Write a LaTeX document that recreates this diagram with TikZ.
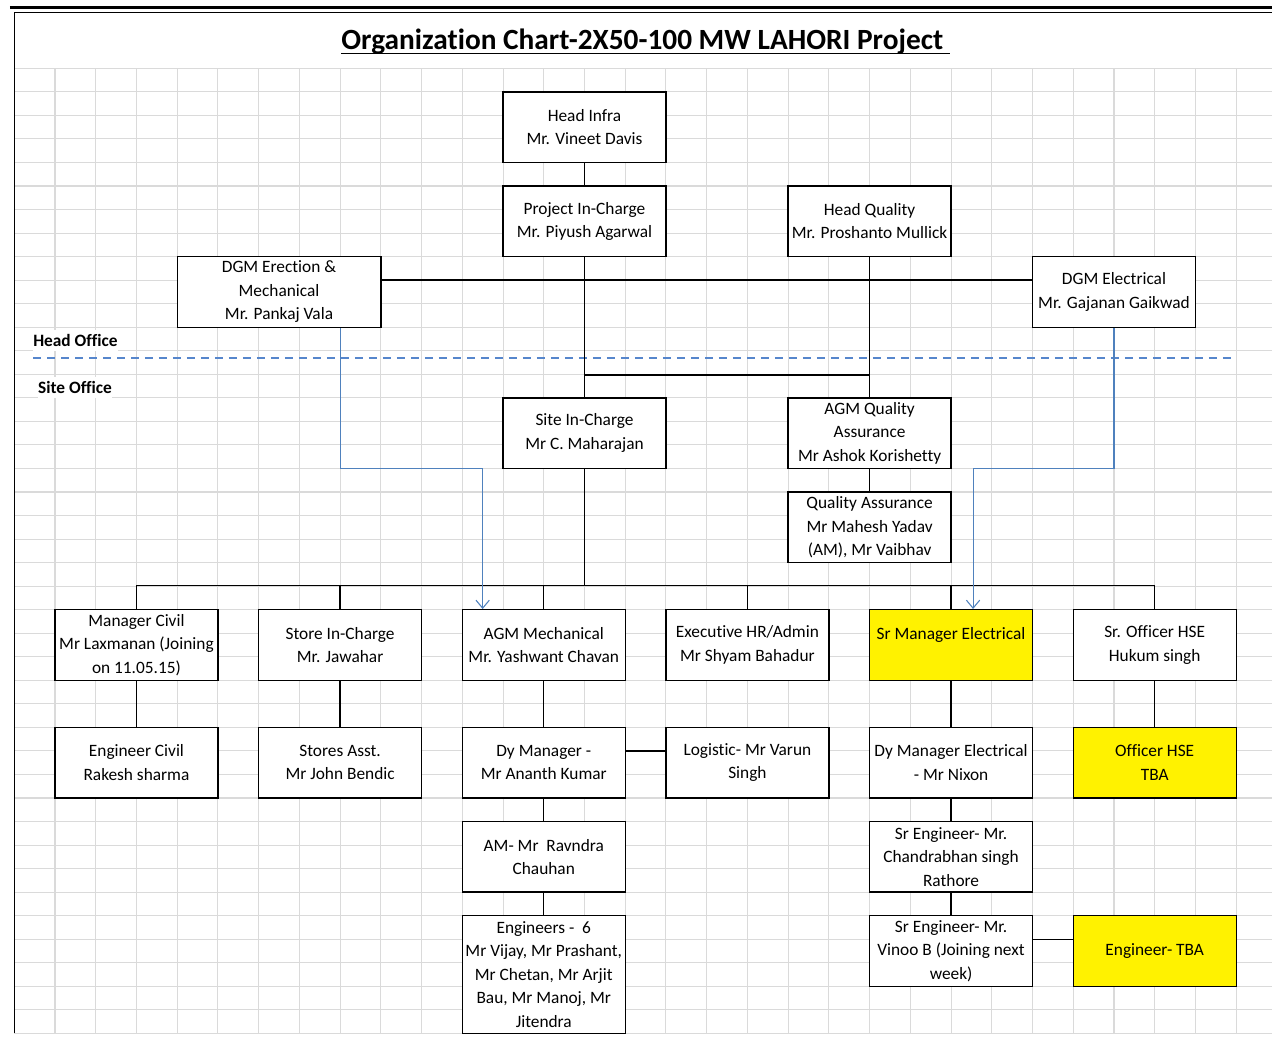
\documentclass[tikz,border=0pt]{standalone}
\usepackage{fontspec}
\setmainfont{Carlito}[Ligatures=NoCommon]
\usetikzlibrary{arrows.meta}

\definecolor{gridgray}{RGB}{218,218,218}
\definecolor{linkblue}{RGB}{79,129,189}
\definecolor{dashblue}{RGB}{86,134,204}

\begin{document}
\begin{tikzpicture}[x=30.55pt, y=-17.655pt,
  post/.style={draw, line width=1pt, fill=white, minimum width=122.2pt, minimum height=52.96pt,
    inner sep=0.5pt, align=center, font=\fontsize{13}{17.6}\selectfont},
  vacant/.style={post, fill=yellow},
  office/.style={anchor=west, fill=white, inner sep=0pt, minimum height=16pt, font=\fontsize{13}{15}\selectfont\bfseries},
  link/.style={line width=1pt},
  report/.style={draw=linkblue, line width=0.8pt, -{Straight Barb[length=6pt,width=10pt]}}]
  \useasboundingbox (-1.3504,-2.9014) rectangle (29.880,42.256);

  % Sheet grid
  \foreach \c in {0,...,29}
    \draw[gridgray, line width=0.8pt] (\c,0) -- (\c,41);
  \foreach \r in {0,...,41}
    \draw[gridgray, line width=0.8pt] (-1,\r) -- (29.88,\r);
  % Sheet border
  \draw[line width=2.6pt] (-1.105,-2.59) -- (29.88,-2.59);
  \draw[line width=0.8pt] (-1,-2.37) -- (29.88,-2.37);
  \draw[line width=1.1pt] (-1,-2.37) -- (-1,41);

  % Title
  \node[anchor=base, font=\fontsize{22}{26}\selectfont\bfseries] (title) at (14.5,-0.81)
    {\underline{\raisebox{0pt}[\height][1.6pt]{Organization Chart-2X50-100 MW LAHORI Project\ }}};

  % Head office / site office split
  \draw[dashblue, line width=1.5pt, dash pattern=on 6pt off 4.5pt] (-0.54,12.32) -- (29,12.32);
  \node[office] (hoLabel) at (-0.54,11.55) {Head Office};
  \node[office] (soLabel) at (-0.42,13.55) {Site Office};

  % Head office posts
  \node[post] (infra) at (13,2.5) {Head Infra\\Mr. Vineet Davis};
  \node[post] (project) at (13,6.5) {Project In-Charge\\Mr. Piyush Agarwal};
  \node[post] (hquality) at (20,6.5) {Head Quality\\Mr. Proshanto Mullick};
  \node[post, minimum width=152.75pt] (dgmmech) at (5.5,9.5) {DGM Erection \&\\Mechanical\\Mr. Pankaj Vala};
  \node[post] (dgmelec) at (26,9.5) {DGM Electrical\\Mr. Gajanan Gaikwad};

  % Site posts
  \node[post] (site) at (13,15.5) {Site In-Charge\\Mr C. Maharajan};
  \node[post] (agmqa) at (20,15.5) {AGM Quality\\Assurance\\Mr Ashok Korishetty};
  \node[post] (qa) at (20,19.5) {Quality Assurance\\Mr Mahesh Yadav\\(AM), Mr Vaibhav};

  % Department heads
  \node[post] (mcivil) at (2,24.5) {Manager Civil\\Mr Laxmanan (Joining\\on 11.05.15)};
  \node[post] (store) at (7,24.5) {Store In-Charge\\Mr. Jawahar};
  \node[post] (agmmech) at (12,24.5) {AGM Mechanical\\Mr. Yashwant Chavan};
  \node[post] (exechr) at (17,24.5) {Executive HR/Admin\\Mr Shyam Bahadur};
  \node[vacant] (srmgrel) at (22,24.5) {Sr Manager Electrical\\~};
  \node[post] (srhse) at (27,24.5) {Sr. Officer HSE\\Hukum singh};

  % Second level
  \node[post] (engcivil) at (2,29.5) {Engineer Civil\\Rakesh sharma};
  \node[post] (storeasst) at (7,29.5) {Stores Asst.\\Mr John Bendic};
  \node[post] (dymgr) at (12,29.5) {Dy Manager -\\Mr Ananth Kumar};
  \node[post] (logistic) at (17,29.5) {Logistic- Mr Varun\\Singh};
  \node[post] (dymgrel) at (22,29.5) {Dy Manager Electrical\\- Mr Nixon};
  \node[vacant] (offhse) at (27,29.5) {Officer HSE\\TBA};

  % Third and fourth level
  \node[post] (am) at (12,33.5) {AM- Mr\ \ Ravndra\\Chauhan};
  \node[post] (sreng1) at (22,33.5) {Sr Engineer- Mr.\\Chandrabhan singh\\Rathore};
  \node[post, minimum height=88.27pt] (engrs) at (12,38.5)
    {Engineers -\ \ 6\\Mr Vijay, Mr Prashant,\\Mr Chetan, Mr Arjit\\Bau, Mr Manoj, Mr\\Jitendra};
  \node[post] (sreng2) at (22,37.5) {Sr Engineer- Mr.\\Vinoo B (Joining next\\week)};
  \node[vacant] (engtba) at (27,37.5) {Engineer- TBA};

  % Reporting lines, head office
  \draw[link] (infra) -- (project);
  \draw[link] (project) -- (site);
  \draw[link] (hquality) -- (agmqa);
  \draw[link] (dgmmech.east) ++(0,-0.5) coordinate (hoBus) -- (hoBus -| dgmelec.west);
  \draw[link] (project.south) ++(0,5) coordinate (soBus) -- (soBus -| hquality.south);
  \draw[link] (agmqa) -- (qa);

  % Reporting lines, site
  \draw[link] (mcivil.north) ++(0,-1) coordinate (siteBus) -- (siteBus -| srhse.north);
  \draw[link] (site.south) -- (site.south |- siteBus);
  \foreach \n in {mcivil,store,agmmech,exechr,srmgrel,srhse}
    \draw[link] (\n.north) -- ++(0,-1);
  \draw[link] (mcivil) -- (engcivil);
  \draw[link] (store) -- (storeasst);
  \draw[link] (agmmech) -- (dymgr);
  \draw[link] (dymgr) -- (am);
  \draw[link] (am) -- (engrs);
  \draw[link] (srmgrel) -- (dymgrel);
  \draw[link] (dymgrel) -- (sreng1);
  \draw[link] (sreng1) -- (sreng2);
  \draw[link] (srhse) -- (offhse);
  \draw[link] (dymgr.east) ++(0,-0.5) coordinate (lgTie) -- (lgTie -| logistic.west);
  \draw[link] (sreng2.east) ++(0,-0.5) coordinate (tbaTie) -- (tbaTie -| engtba.west);

  % Functional lines from head office
  \coordinate (mechDrop) at (10.5,17);
  \coordinate (elecDrop) at (22.54,17);
  \draw[report] (dgmmech.south -| store.north) |- (mechDrop) -- (mechDrop |- agmmech.north);
  \draw[report] (dgmelec.south) |- (elecDrop) -- (elecDrop |- srmgrel.north);
\end{tikzpicture}
\end{document}
